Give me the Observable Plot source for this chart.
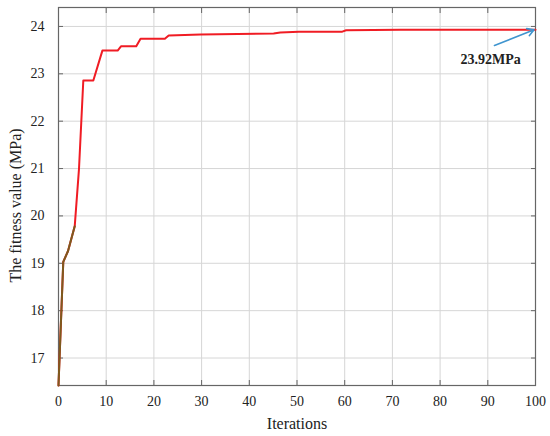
<!DOCTYPE html>
<html>
<head>
<meta charset="utf-8">
<script src="https://cdn.jsdelivr.net/npm/d3@7"></script>
<script src="https://cdn.jsdelivr.net/npm/@observablehq/plot@0.6"></script>
<style>
  html, body { margin: 0; padding: 0; background: #fff; }
  #chart { width: 550px; height: 436px; }
  #chart svg text { font-family: "Liberation Serif", "Times New Roman", serif; }
</style>
</head>
<body>
<div id="chart"></div>
<script>
// Iteration numbers and best fitness values (MPa)
const iterations = [0, 1, 2, 3.4, 4.3, 5.2, 7.3, 9.2, 12.4, 13.1, 16.3, 17.2, 22.3, 23.1, 29.8, 45.1, 46.5, 50.4, 59.5, 60.3, 71.7, 100];
const fitness    = [16.42, 19.03, 19.26, 19.78, 21.0, 22.86, 22.86, 23.49, 23.49, 23.58, 23.58, 23.74, 23.74, 23.81, 23.83, 23.85, 23.87, 23.89, 23.89, 23.92, 23.93, 23.93];
// early part of the curve drawn in a darker tone in the reference
const earlyIter  = [0, 1, 2, 3.4];
const earlyFit   = [16.42, 19.03, 19.26, 19.78];

const xTicks = [0, 10, 20, 30, 40, 50, 60, 70, 80, 90, 100];
const yTicks = [17, 18, 19, 20, 21, 22, 23, 24];

const xLabel = "Iterations";
const yLabel = "The fitness value (MPa)";

// annotation
const annText = ["23.92MPa"];
const annTextX = [90.6];
const annTextY = [23.31];
const arrowFrom = [91.4, 23.6];
const arrowTo = [99.7, 23.93];

const data = iterations.map((x, i) => ({x, y: fitness[i]}));
const early = earlyIter.map((x, i) => ({x, y: earlyFit[i]}));

const font = "Liberation Serif";

const plot = Plot.plot({
  width: 550,
  height: 436,
  marginLeft: 58,
  marginRight: 15,
  marginTop: 7,
  marginBottom: 51,
  style: {fontFamily: font, fontSize: "14px", color: "#222", background: "#fff"},
  x: {domain: [0, 100]},
  y: {domain: [16.42, 24.4]},
  marks: [
    Plot.gridX(xTicks, {stroke: "#d6d6d6", strokeOpacity: 1}),
    Plot.gridY(yTicks, {stroke: "#d6d6d6", strokeOpacity: 1}),
    // inward ticks on all four sides
    Plot.axisX(xTicks, {anchor: "bottom", tickSize: -5, tickFormat: () => "", stroke: "#666", label: null}),
    Plot.axisX(xTicks, {anchor: "top", tickSize: -5, tickFormat: () => "", stroke: "#666", label: null}),
    Plot.axisY(yTicks, {anchor: "left", tickSize: -5, tickFormat: () => "", stroke: "#666", label: null}),
    Plot.axisY(yTicks, {anchor: "right", tickSize: -5, tickFormat: () => "", stroke: "#666", label: null}),
    // tick labels
    Plot.axisX(xTicks, {anchor: "bottom", tickSize: 0, tickPadding: 11, fontSize: 14, fontFamily: font, fill: "#222", label: null}),
    Plot.axisY(yTicks, {anchor: "left", tickSize: 0, tickPadding: 14, fontSize: 14, fontFamily: font, fill: "#222", label: null}),
    // axis titles
    Plot.text([xLabel], {frameAnchor: "bottom", dy: 43, fontSize: 16, fontFamily: font, fill: "#222", text: d => d}),
    Plot.text([yLabel], {frameAnchor: "left", textAnchor: "middle", rotate: -90, dx: -43, dy: 9, fontSize: 16, fontFamily: font, fill: "#222", text: d => d}),
    Plot.frame({stroke: "#666", strokeWidth: 1.2}),
    Plot.line(data, {x: "x", y: "y", stroke: "#f01c24", strokeWidth: 2}),
    Plot.line(early, {x: "x", y: "y", stroke: "#7d5a1e", strokeWidth: 2}),
    Plot.arrow([0], {x1: () => arrowFrom[0], y1: () => arrowFrom[1], x2: () => arrowTo[0], y2: () => arrowTo[1],
      stroke: "#3f95cf", strokeWidth: 1.6, headLength: 7, bend: 0}),
    Plot.text(annText, {x: (d, i) => annTextX[i], y: (d, i) => annTextY[i], text: d => d,
      fontWeight: "bold", fontSize: 14, fontFamily: font, fill: "#222"})
  ]
});

document.getElementById("chart").appendChild(plot);
</script>
</body>
</html>
